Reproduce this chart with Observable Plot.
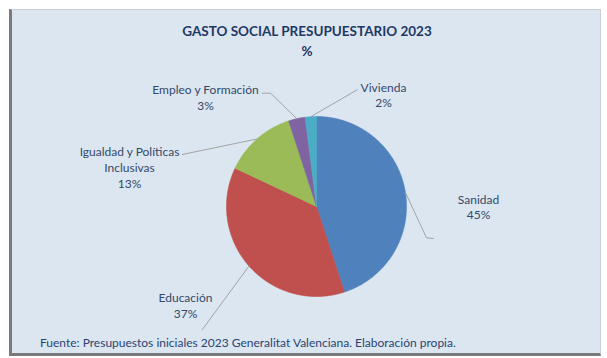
<!DOCTYPE html>
<html>
<head>
<meta charset="utf-8">
<script src="https://cdn.jsdelivr.net/npm/d3@7"></script>
<script src="https://cdn.jsdelivr.net/npm/@observablehq/plot@0.6"></script>
<style>
html, body { margin: 0; padding: 0; background: #ffffff; }
#wrap { position: relative; width: 607px; height: 358px; overflow: hidden; font-family: Lato, "Open Sans", sans-serif; }
#panel { position: absolute; left: 9px; top: 9px; width: 592px; height: 347px; box-sizing: border-box;
  background: #dce6f1; border-left: 3px solid #7a7a7a; border-bottom: 3px solid #7a7a7a;
  border-top: 1px solid #c9ced6; border-right: 1px solid #c9ced6; }
.title { position: absolute; left: 0; width: 614px; text-align: center; font-weight: 700; font-size: 13.5px; line-height: 16px; color: #1f3864; }
#footer { position: absolute; left: 40px; top: 336px; font-size: 12px; line-height: 14px; color: #2a4470; white-space: nowrap; }
#chart { position: absolute; left: 0; top: 0; }
</style>
</head>
<body>
<div id="wrap">
  <div id="panel"></div>
  <div class="title" style="top:23px">GASTO SOCIAL PRESUPUESTARIO 2023</div>
  <div class="title" style="top:43px">%</div>
  <div id="chart"></div>
  <div id="footer">Fuente: Presupuestos iniciales 2023 Generalitat Valenciana. Elaboración propia.</div>
</div>
<script>
// ---- data ----
const categories = ["Sanidad", "Educación", "Igualdad y Políticas Inclusivas", "Empleo y Formación", "Vivienda"];
const labelNames = ["Sanidad", "Educación", "Igualdad y Políticas\nInclusivas", "Empleo y Formación", "Vivienda"];
const shares = [45, 37, 13, 3, 2];

// ---- styles / layout ----
const colors = ["#4f81bd", "#c0504d", "#9bbb59", "#8064a2", "#4bacc6"];
const CX = 316, CY = 206, R = 90;
const labelPos = [[478, 206], [185, 304.5], [129, 166.5], [205, 96.5], [383, 94]];
const leaderBends = [
  [[426, 237.3], [432.7, 238]],
  [[201.7, 329.3]],
  [[181.7, 154]],
  [[270, 92.7], [261.7, 92.7]],
  [[356.7, 89.3]]
];

const arcs = d3.pie().sort(null).value(d => d)(shares);
const pt = (a, r) => ({x: CX + r * Math.sin(a), y: CY - r * Math.cos(a)});

const slicePts = [];
arcs.forEach((arc, i) => {
  const name = categories[i];
  slicePts.push({name, x: CX, y: CY});
  const n = Math.max(4, Math.ceil((arc.endAngle - arc.startAngle) * 60));
  for (let k = 0; k <= n; k++) {
    const a = arc.startAngle + (arc.endAngle - arc.startAngle) * k / n;
    slicePts.push({name, ...pt(a, R)});
  }
  slicePts.push({name, x: CX, y: CY});
});

const leaderPts = [];
arcs.forEach((arc, i) => {
  const name = categories[i];
  const mid = (arc.startAngle + arc.endAngle) / 2;
  leaderPts.push({name, ...pt(mid, R)});
  leaderBends[i].forEach(([x, y]) => leaderPts.push({name, x, y}));
});

const labels = categories.map((c, i) => ({
  name: c,
  text: labelNames[i] + "\n" + shares[i] + "%",
  x: labelPos[i][0],
  y: labelPos[i][1]
}));

const chart = Plot.plot({
  width: 607,
  height: 358,
  margin: 0,
  style: {background: "none", overflow: "visible"},
  x: {domain: [0, 607], range: [0, 607], axis: null},
  y: {domain: [0, 358], range: [0, 358], axis: null},
  color: {domain: categories, range: colors},
  marks: [
    Plot.line(slicePts, {x: "x", y: "y", z: "name", fill: "name", stroke: "name", strokeWidth: 0.6}),
    Plot.line(leaderPts, {x: "x", y: "y", z: "name", stroke: "#a3a3a3", strokeWidth: 1}),
    Plot.text(labels, {x: "x", y: "y", text: "text", fill: "#34496b", fontSize: 12, lineHeight: 1.3, fontFamily: "Lato, sans-serif"})
  ]
});
document.getElementById("chart").appendChild(chart);
</script>
</body>
</html>
